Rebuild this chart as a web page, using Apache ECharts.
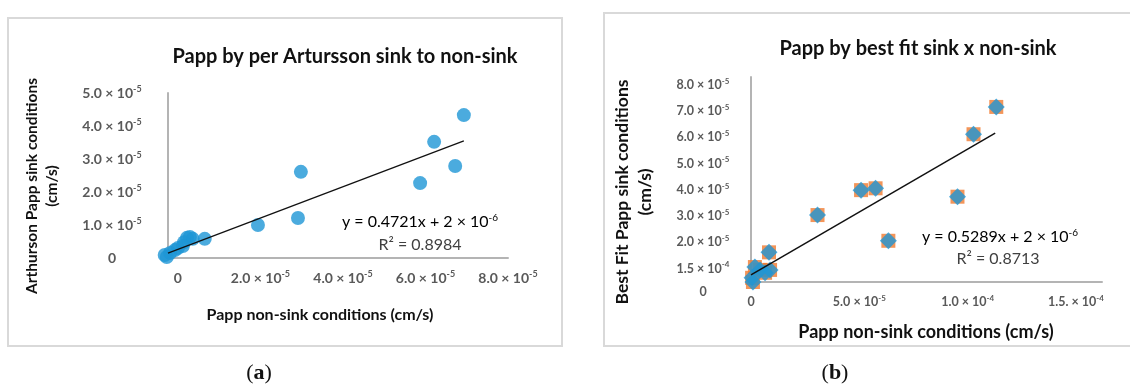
<!DOCTYPE html>
<html lang="en">
<head>
    <meta charset="UTF-8">
    <title>Papp sink vs non-sink</title>
    <script src="https://cdn.jsdelivr.net/npm/echarts@6/dist/echarts.min.js"></script>
    <style>
        html, body { margin: 0; padding: 0; background: #fff; }
        #container { width: 1130px; height: 387px; }
    </style>
</head>
<body>
<div id="container"></div>
<script type="text/javascript">
    // (a) Artursson sink vs non-sink
    let aX = [6.93e-5, 6.21e-5, 6.72e-5, 5.87e-5, 2.98e-5, 2.91e-5, 1.94e-5, 0.65e-5, 0.22e-5, 0.29e-5, 0.36e-5, 0.15e-5, 0.12e-5, 0.00, -0.07e-5, -0.19e-5, -0.32e-5, -0.27e-5];
    let aY = [4.33e-5, 3.52e-5, 2.79e-5, 2.27e-5, 2.61e-5, 1.21e-5, 1.00e-5, 0.58e-5, 0.61e-5, 0.64e-5, 0.58e-5, 0.48e-5, 0.36e-5, 0.30e-5, 0.24e-5, 0.15e-5, 0.09e-5, 0.03e-5];
    let aTrend = [[-0.24e-5, 0.15e-5], [6.93e-5, 3.55e-5]];
    let aXTicks = [0, 2e-5, 4e-5, 6e-5, 8e-5];
    let aXLabels = ['0', '2.0 × 10^-5', '4.0 × 10^-5', '6.0 × 10^-5', '8.0 × 10^-5'];
    let aYTicks = [0, 1e-5, 2e-5, 3e-5, 4e-5, 5e-5];
    let aYLabels = ['0', '1.0 × 10^-5', '2.0 × 10^-5', '3.0 × 10^-5', '4.0 × 10^-5', '5.0 × 10^-5'];

    // (b) best fit sink vs non-sink
    let bX = [11.32e-5, 10.27e-5, 5.75e-5, 5.08e-5, 9.53e-5, 3.07e-5, 6.34e-5, 0.83e-5, 0.09e-5, 0.18e-5, 0.42e-5, 0.88e-5, 0.65e-5, 0.05e-5];
    let bY = [7.16e-5, 6.12e-5, 4.06e-5, 3.99e-5, 3.74e-5, 3.04e-5, 2.06e-5, 1.62e-5, 0.49e-5, 1.06e-5, 0.95e-5, 0.95e-5, 0.84e-5, 0.65e-5];
    let bTrend = [[0, 0.76e-5], [11.27e-5, 6.16e-5]];
    let bXTicks = [0, 5e-5, 10e-5, 15e-5];
    let bXLabels = ['0', '5.0 × 10^-5', '1.0 × 10^-4', '1.5. × 10^-4'];
    let bYMin = 0.49e-5;
    let bYTicks = [bYMin, 1e-5, 2e-5, 3e-5, 4e-5, 5e-5, 6e-5, 7e-5, 8e-5];
    let bYLabels = ['0', '1.5 × 10^-4', '2.0 × 10^-5', '3.0 × 10^-5', '4.0 × 10^-5', '5.0 × 10^-5', '6.0 × 10^-5', '7.0 × 10^-5', '8.0 × 10^-5'];

    let FONT = 'Lato, "Open Sans", sans-serif';
    let BLUE = '#1e96d6', ORANGE = '#f07b2f', AXIS = '#b4b4b4';

    // "2.0 × 10^-5" -> rich text with a raised exponent
    function sup(s, zero) {
        let p = s.split('^');
        if (p.length < 2) return zero ? '{z|' + s + '}' : '{n|' + s + '}';
        return '{n|' + p[0] + '}{s|' + p[1] + '}';
    }
    function richSet(size, weight, color) {
        return {
            n: { fontSize: size, fontWeight: weight, color: color, fontFamily: FONT, lineHeight: size + 3 },
            s: { fontSize: Math.round(size * 0.62), fontWeight: weight, color: color, fontFamily: FONT, verticalAlign: 'top', lineHeight: Math.round(size * 0.62) + 1 },
            z: { fontSize: size, fontWeight: weight, color: color, fontFamily: FONT, padding: [20, 0, 0, 0] }
        };
    }
    function pick(ticks, labels, zeroDown) {
        return function (v) {
            for (let i = 0; i < ticks.length; i++) {
                if (Math.abs(ticks[i] - v) < 1e-9) return sup(labels[i], zeroDown && i === 0);
            }
            return '';
        };
    }
    function zip(xs, ys) {
        let out = [];
        for (let i = 0; i < xs.length; i++) out.push([xs[i], ys[i]]);
        return out;
    }
    function axis(min, max, ticks, labels, margin, size, grid, zeroDown) {
        return {
            type: 'value', min: min, max: max, gridIndex: grid,
            axisLine: { show: true, onZero: false, lineStyle: { color: AXIS, width: 2 } },
            axisTick: { show: false },
            splitLine: { show: false },
            axisLabel: {
                customValues: ticks,
                formatter: pick(ticks, labels, zeroDown),
                rich: richSet(size, 'bold', '#595959'),
                align: 'center',
                margin: margin, showMinLabel: true, showMaxLabel: true
            }
        };
    }
    function label(x, y, text, size, weight, color, extra) {
        let t = { type: 'text', x: x, y: y, style: { text: text, font: weight + ' ' + size + 'px ' + FONT, fill: color, align: 'center', verticalAlign: 'middle' } };
        return Object.assign(t, extra || {});
    }

    let dom = document.getElementById('container');
    let myChart = echarts.init(dom, null, { renderer: 'canvas' });

    let option = {
        animation: false,
        grid: [
            { left: 168, top: 93, width: 340, height: 165 },
            { left: 751, top: 77, width: 351, height: 205 }
        ],
        xAxis: [
            axis(-0.24e-5, 8e-5, aXTicks, aXLabels, 12, 14, 0),
            axis(0, 16.2e-5, bXTicks, bXLabels, 12, 12.5, 1)
        ],
        yAxis: [
            axis(0, 5e-5, aYTicks, aYLabels, 56, 14, 0),
            axis(bYMin, 8.3e-5, bYTicks, bYLabels, 48, 12.5, 1, true)
        ],
        series: [
            {
                name: 'a', type: 'scatter', xAxisIndex: 0, yAxisIndex: 0, clip: false,
                symbol: 'circle', symbolSize: 14, itemStyle: { color: BLUE },
                data: zip(aX, aY)
            },
            {
                name: 'a trend', type: 'line', xAxisIndex: 0, yAxisIndex: 0, symbol: 'none',
                lineStyle: { color: '#111', width: 1.3 }, data: aTrend
            },
            {
                name: 'b sq', type: 'scatter', xAxisIndex: 1, yAxisIndex: 1, clip: false,
                symbol: 'rect', symbolSize: 14, itemStyle: { color: ORANGE },
                data: zip(bX, bY)
            },
            {
                name: 'b', type: 'scatter', xAxisIndex: 1, yAxisIndex: 1, clip: false,
                symbol: 'diamond', symbolSize: 17, itemStyle: { color: BLUE },
                data: zip(bX, bY)
            },
            {
                name: 'b trend', type: 'line', xAxisIndex: 1, yAxisIndex: 1, symbol: 'none',
                lineStyle: { color: '#111', width: 1.5 }, data: bTrend
            }
        ],
        graphic: [
            // panel frames
            { type: 'rect', shape: { x: 8, y: 18, width: 554, height: 328 }, style: { fill: null, stroke: '#d9d9d9', lineWidth: 2 }, z: -1 },
            { type: 'rect', shape: { x: 604, y: 13, width: 540, height: 333 }, style: { fill: null, stroke: '#d9d9d9', lineWidth: 2 }, z: -1 },
            // titles
            label(345, 57, 'Papp by per Artursson sink to non-sink', 20, 'bold', '#111'),
            label(918, 49, 'Papp by best fit sink x non-sink', 20, 'bold', '#111'),
            // axis names
            label(320, 315, 'Papp non-sink conditions (cm/s)', 16, 'bold', '#111'),
            label(32, 186, 'Arthurson Papp sink conditions', 15.5, 'bold', '#111', { rotation: Math.PI / 2 }),
            label(52, 186, '(cm/s)', 15.5, 'bold', '#111', { rotation: Math.PI / 2 }),
            label(926, 332, 'Papp non-sink conditions (cm/s)', 18, 'bold', '#111'),
            label(622, 192, 'Best Fit Papp sink conditions', 17.5, 'bold', '#111', { rotation: Math.PI / 2 }),
            label(645, 192, '(cm/s)', 17.5, 'bold', '#111', { rotation: Math.PI / 2 }),
            // regression equations
            { type: 'text', x: 420, y: 222, style: { text: sup('y = 0.4721x + 2 × 10^-6'), rich: richSet(16, 'normal', '#404040'), align: 'center', verticalAlign: 'middle' } },
            label(420, 245, 'R² = 0.8984', 16, 'normal', '#404040'),
            { type: 'text', x: 1000, y: 237, style: { text: sup('y = 0.5289x + 2 × 10^-6'), rich: richSet(16, 'normal', '#404040'), align: 'center', verticalAlign: 'middle' } },
            label(998, 259, 'R² = 0.8713', 16, 'normal', '#404040'),
            // panel letters
            { type: 'text', x: 259, y: 373, style: { text: '({b|a})', font: '22px "Liberation Serif", serif', fill: '#111', align: 'center', verticalAlign: 'middle', rich: { b: { fontWeight: 'bold', fontSize: 22, fontFamily: '"Liberation Serif", serif' } } } },
            { type: 'text', x: 835, y: 373, style: { text: '({b|b})', font: '22px "Liberation Serif", serif', fill: '#111', align: 'center', verticalAlign: 'middle', rich: { b: { fontWeight: 'bold', fontSize: 22, fontFamily: '"Liberation Serif", serif' } } } }
        ]
    };
    myChart.setOption(option);
</script>
</body>
</html>
